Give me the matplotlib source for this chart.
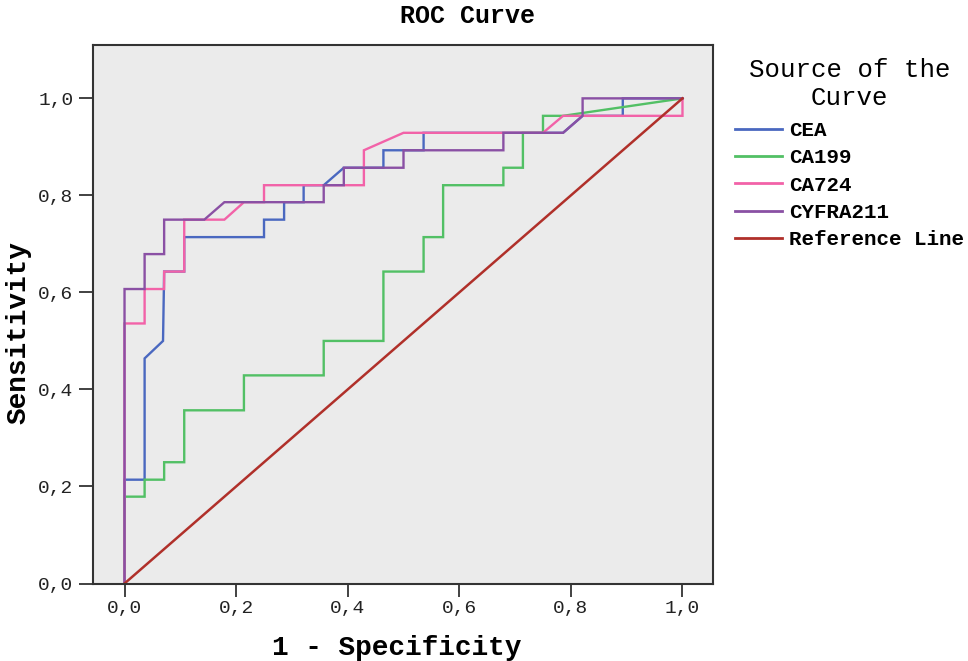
import matplotlib
matplotlib.use("Agg")
import matplotlib.pyplot as plt
from matplotlib.ticker import FuncFormatter

# ROC curve data (x = 1 - specificity, y = sensitivity)
cea_x = [0, 0, 0.036, 0.036, 0.069, 0.071, 0.107, 0.107, 0.250, 0.250, 0.286, 0.286,
         0.321, 0.321, 0.357, 0.393, 0.464, 0.464, 0.536, 0.536, 0.786, 0.821, 0.893, 0.893, 1.0]
cea_y = [0, 0.214, 0.214, 0.464, 0.500, 0.643, 0.643, 0.714, 0.714, 0.750, 0.750, 0.786,
         0.786, 0.821, 0.821, 0.857, 0.857, 0.893, 0.893, 0.929, 0.929, 0.964, 0.964, 1.0, 1.0]

ca199_x = [0, 0, 0.036, 0.036, 0.071, 0.071, 0.107, 0.107, 0.214, 0.214, 0.357, 0.357,
           0.464, 0.464, 0.536, 0.536, 0.571, 0.571, 0.679, 0.679, 0.714, 0.714, 0.750, 0.750, 0.786, 1.0]
ca199_y = [0, 0.179, 0.179, 0.214, 0.214, 0.250, 0.250, 0.357, 0.357, 0.429, 0.429, 0.500,
           0.500, 0.643, 0.643, 0.714, 0.714, 0.821, 0.821, 0.857, 0.857, 0.929, 0.929, 0.964, 0.964, 1.0]

ca724_x = [0, 0, 0.036, 0.036, 0.071, 0.071, 0.107, 0.107, 0.179, 0.214, 0.250, 0.250,
           0.429, 0.429, 0.500, 0.750, 0.786, 1.0, 1.0]
ca724_y = [0, 0.536, 0.536, 0.607, 0.607, 0.643, 0.643, 0.750, 0.750, 0.786, 0.786, 0.821,
           0.821, 0.893, 0.929, 0.929, 0.964, 0.964, 1.0]

cyfra_x = [0, 0, 0.036, 0.036, 0.071, 0.071, 0.143, 0.179, 0.357, 0.357, 0.393, 0.393,
           0.500, 0.500, 0.679, 0.679, 0.786, 0.821, 0.821, 1.0]
cyfra_y = [0, 0.607, 0.607, 0.679, 0.679, 0.750, 0.750, 0.786, 0.786, 0.821, 0.821, 0.857,
           0.857, 0.893, 0.893, 0.929, 0.929, 0.964, 1.0, 1.0]

ref_x = [0, 1]
ref_y = [0, 1]

series_names = ["CEA", "CA199", "CA724", "CYFRA211", "Reference Line"]
series_colors = ["#4a68c0", "#52c065", "#f262a8", "#8a50a4", "#b0302a"]

tick_vals = [0.0, 0.2, 0.4, 0.6, 0.8, 1.0]

MONO = "Liberation Mono"

fig = plt.figure(figsize=(9.68, 6.61), dpi=100)
fig.patch.set_facecolor("white")
ax = fig.add_axes([93/968, (661-583.5)/661, (713-93)/968, (583.5-45)/661])
ax.set_facecolor("#ebebeb")

data = [(cea_x, cea_y), (ca199_x, ca199_y), (ca724_x, ca724_y), (cyfra_x, cyfra_y)]
handles = []
for (xs, ys), name, col in zip(data, series_names[:4], series_colors[:4]):
    h, = ax.plot(xs, ys, color=col, lw=1.7, label=name, solid_joinstyle="miter")
    handles.append(h)
h, = ax.plot(ref_x, ref_y, color=series_colors[4], lw=1.8, label=series_names[4])
handles.append(h)

ax.set_xlim(-0.0565, 1.0547)
ax.set_ylim(0, 1.11)
ax.set_xticks(tick_vals)
ax.set_yticks(tick_vals)
fmt = FuncFormatter(lambda v, p: f"{v:.1f}".replace(".", ","))
ax.xaxis.set_major_formatter(fmt)
ax.yaxis.set_major_formatter(fmt)
ax.tick_params(axis="x", direction="out", length=9, width=1.3, color="#333333", pad=3,
               labelsize=14, labelcolor="#222222")
ax.tick_params(axis="y", direction="out", length=10, width=1.3, color="#333333", pad=4,
               labelsize=14, labelcolor="#222222")
for lab in ax.get_xticklabels() + ax.get_yticklabels():
    lab.set_fontfamily(MONO)
for sp in ax.spines.values():
    sp.set_color("#333333")
    sp.set_linewidth(1.5)

ax.set_xlabel("1 - Specificity", fontfamily=MONO, fontweight="bold", fontsize=20)
ax.xaxis.set_label_coords((397 - 93) / 620, (583.5 - 648) / 538.5)
ax.xaxis.label.set_va("center")
ax.set_ylabel("Sensitivity", fontfamily=MONO, fontweight="bold", fontsize=20)
ax.yaxis.set_label_coords((19 - 93) / 620, (583.5 - 333) / 538.5)
ax.yaxis.label.set_va("center")
fig.text(467/968, 1 - 16/661, "ROC Curve", fontfamily=MONO, fontweight="bold", fontsize=18,
         ha="center", va="center")

leg = fig.legend(handles=handles, labels=series_names, loc="upper left",
                 bbox_to_anchor=(735/968, 1 - 58/661), frameon=False,
                 prop={"family": MONO, "weight": "bold", "size": 15},
                 title="Source of the\nCurve",
                 title_fontproperties={"family": MONO, "size": 18.5},
                 alignment="center",
                 handlelength=2.25, handletextpad=0.35, labelspacing=0.4,
                 borderpad=0, borderaxespad=0)
leg.get_title().set_multialignment("center")
leg._legend_box.sep = 8
for line in leg.get_lines():
    line.set_linewidth(2)

fig.savefig("out.png", dpi=100, facecolor="white")
